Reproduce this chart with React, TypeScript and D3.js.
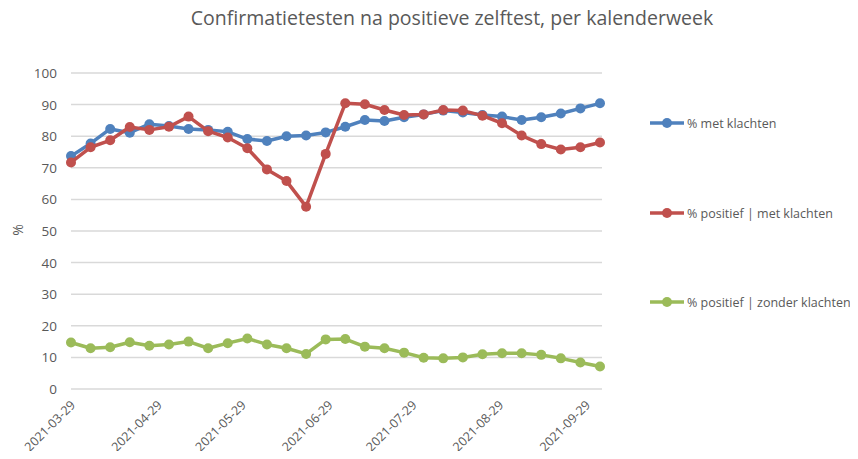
import React, { useEffect, useRef } from "react";
import * as d3 from "d3";

const startWeek = "2021-03-29";
const tickDates = ["2021-03-29", "2021-04-29", "2021-05-29", "2021-06-29", "2021-07-29", "2021-08-29", "2021-09-29"];
const yTicks = [0, 10, 20, 30, 40, 50, 60, 70, 80, 90, 100];

const metKlachten = [73.7, 77.7, 82.3, 81.1, 83.8, 83.2, 82.3, 82.0, 81.4, 79.1, 78.5, 80.0, 80.2, 81.2,
  83.0, 85.1, 84.8, 86.0, 86.9, 88.1, 87.5, 86.7, 86.2, 85.1, 86.0, 87.2, 88.8, 90.4];
const positiefMet = [71.7, 76.5, 78.7, 82.9, 82.0, 83.0, 86.2, 81.6, 79.6, 76.2, 69.5, 65.8, 57.7, 74.4,
  90.4, 90.1, 88.3, 86.7, 86.9, 88.3, 88.1, 86.5, 84.1, 80.2, 77.5, 75.8, 76.5, 78.0];
const positiefZonder = [14.7, 12.9, 13.2, 14.8, 13.7, 14.1, 15.0, 12.9, 14.5, 16.0, 14.1, 12.9, 11.1, 15.7,
  15.8, 13.4, 12.9, 11.5, 9.9, 9.7, 10.0, 11.0, 11.3, 11.3, 10.8, 9.7, 8.4, 7.1];

const seriesNames = ["% met klachten", "% positief | met klachten", "% positief | zonder klachten"];
const seriesColors = ["#4F81BD", "#C0504D", "#9BBB59"];

const W = 858, H = 459;

export default function App() {
  const ref = useRef<SVGSVGElement>(null);

  useEffect(() => {
    const svg = d3.select(ref.current);
    svg.selectAll("*").remove();
    const font = "'Open Sans', 'Noto Sans', sans-serif";

    const parse = d3.utcParse("%Y-%m-%d");
    const start = parse(startWeek);
    const weeks = metKlachten.map((_, i) => d3.utcDay.offset(start, i * 7));

    const x = d3.scaleUtc().domain([start, weeks[weeks.length - 1]]).range([71, 600]);
    const y = d3.scaleLinear().domain([0, 100]).range([389, 73]);

    svg.append("text")
      .attr("x", 452).attr("y", 25)
      .attr("text-anchor", "middle")
      .attr("font-family", font).attr("font-size", 19.5)
      .attr("fill", "#595959")
      .text("Confirmatietesten na positieve zelftest, per kalenderweek");

    // gridlines
    svg.append("g").selectAll("line").data(yTicks).join("line")
      .attr("x1", 71).attr("x2", 602)
      .attr("y1", (d) => y(d)).attr("y2", (d) => y(d))
      .attr("stroke", "#d9d9d9").attr("stroke-width", 1.5);

    svg.append("g").selectAll("text").data(yTicks).join("text")
      .attr("x", 57).attr("y", (d) => y(d) + 5)
      .attr("text-anchor", "end")
      .attr("font-family", font).attr("font-size", 13.5)
      .attr("fill", "#595959")
      .text((d) => d);

    svg.append("text")
      .attr("transform", "translate(23,230) rotate(-90)")
      .attr("text-anchor", "middle")
      .attr("font-family", font).attr("font-size", 14)
      .attr("fill", "#595959")
      .text("%");

    svg.append("g").selectAll("text").data(tickDates.map((d) => parse(d))).join("text")
      .attr("transform", (d) => `translate(${x(d) + 5},${406}) rotate(-45)`)
      .attr("text-anchor", "end")
      .attr("font-family", font).attr("font-size", 12.5)
      .attr("fill", "#595959")
      .text((d) => d3.utcFormat("%Y-%m-%d")(d));

    const line = d3.line<number>().x((_, i) => x(weeks[i])).y((d) => y(d));
    const all = [metKlachten, positiefMet, positiefZonder];

    all.forEach((vals, s) => {
      const g = svg.append("g");
      g.append("path").datum(vals)
        .attr("d", line)
        .attr("fill", "none")
        .attr("stroke", seriesColors[s])
        .attr("stroke-width", 3.5)
        .attr("stroke-linejoin", "round");
      g.selectAll("circle").data(vals).join("circle")
        .attr("cx", (_, i) => x(weeks[i]))
        .attr("cy", (d) => y(d))
        .attr("r", 5)
        .attr("fill", seriesColors[s]);
    });

    // legend
    const legendY = [123, 213, 302];
    const lg = svg.append("g").selectAll("g").data(seriesNames).join("g")
      .attr("transform", (_, i) => `translate(650,${legendY[i]})`);
    lg.append("line").attr("x1", 0).attr("x2", 34)
      .attr("stroke", (_, i) => seriesColors[i]).attr("stroke-width", 3.5);
    lg.append("circle").attr("cx", 17).attr("r", 5).attr("fill", (_, i) => seriesColors[i]);
    lg.append("text").attr("x", 37).attr("y", 5)
      .attr("font-family", font).attr("font-size", 12.5)
      .attr("fill", "#595959")
      .text((d) => d);
  }, []);

  return (
    <svg ref={ref} width={W} height={H} style={{ display: "block", margin: "-8px", background: "#fff" }} />
  );
}
